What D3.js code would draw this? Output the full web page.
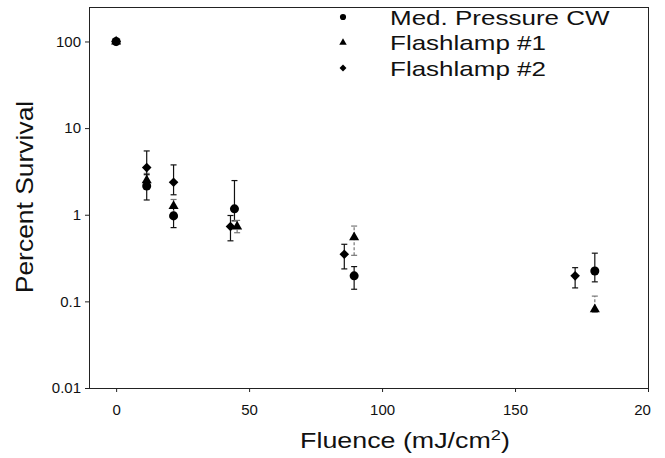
<!DOCTYPE html>
<html>
<head>
<meta charset="utf-8">
<script src="https://cdn.jsdelivr.net/npm/d3@7"></script>
<style>
  body { margin: 0; background: #fff; }
  svg { font-family: "Liberation Sans", Arial, sans-serif; }
  .frame { fill: none; stroke: #222; stroke-width: 1; }
  .axis path { display: none; }
  .axis line { stroke: #222; }
  .axis text { font-size: 15px; fill: #111; }
</style>
</head>
<body>
<div id="chart"></div>
<script>
// series names
var seriesNames = ["Med. Pressure CW", "Flashlamp #1", "Flashlamp #2"];

// Med. Pressure CW
var cwX  = [0, 11.5, 21.6, 44.5, 89.5, 180];
var cwY  = [100, 2.15, 0.97, 1.17, 0.197, 0.224];
var cwLo = [100, 1.48, 0.71, 0.85, 0.138, 0.168];
var cwHi = [100, 2.9, 1.2, 2.48, 0.252, 0.36];

// Flashlamp #1
var fl1X  = [0, 11.5, 21.6, 45.5, 89.5, 180];
var fl1Y  = [100, 2.5, 1.26, 0.73, 0.55, 0.081];
var fl1Lo = [100, 2.0, 1.05, 0.62, 0.34, 0.075];
var fl1Hi = [100, 3.0, 1.5, 0.86, 0.74, 0.115];

// Flashlamp #2
var fl2X  = [0, 11.5, 21.6, 43, 85.8, 172.6];
var fl2Y  = [100, 3.5, 2.37, 0.73, 0.35, 0.197];
var fl2Lo = [100, 2.4, 1.7, 0.50, 0.237, 0.143];
var fl2Hi = [100, 5.45, 3.76, 0.98, 0.456, 0.245];

// ticks
var xTicks = [0, 50, 100, 150, 200];
var xTickLabels = ["0", "50", "100", "150", "20"];
var yTicks = [0.01, 0.1, 1, 10, 100];
var yTickLabels = ["0.01", "0.1", "1", "10", "100"];

function init(){
    var w = 665, h = 458;
    var left = 89, right = 648, top = 7, bottom = 388;

    var svg = d3.select("#chart").append("svg")
        .attr("width", w)
        .attr("height", h);

    var xScale = d3.scaleLinear().domain([-10.2, 200]).range([left, right]);
    var yScale = d3.scaleLog().domain([0.01, 250]).range([bottom, top]);

    // build rows for each series
    function rows(xs, ys, lo, hi){
        return xs.map(function(x, i){ return {x: x, y: ys[i], lo: lo[i], hi: hi[i]}; });
    }
    // diamond = square turned 45 degrees
    var series = [
        {name: seriesNames[0], shape: d3.symbolCircle, size: 64, rot: 0, data: rows(cwX, cwY, cwLo, cwHi), dash: null, color: "#111"},
        {name: seriesNames[1], shape: d3.symbolTriangle, size: 44, rot: 0, data: rows(fl1X, fl1Y, fl1Lo, fl1Hi), dash: "3,2", color: "#777"},
        {name: seriesNames[2], shape: d3.symbolSquare, size: 46, rot: 45, data: rows(fl2X, fl2Y, fl2Lo, fl2Hi), dash: null, color: "#111"}
    ];

    // axes
    var xAxis = d3.axisBottom(xScale).tickValues(xTicks).tickSize(4).tickPadding(12)
        .tickFormat(function(d, i){ return xTickLabels[i]; });
    var yAxis = d3.axisLeft(yScale).tickValues(yTicks).tickSize(4).tickPadding(4)
        .tickFormat(function(d, i){ return yTickLabels[i]; });

    var gx = svg.append("g").attr("class", "axis")
        .attr("transform", `translate(0,${bottom})`)
        .call(xAxis);
    // last label is clipped to "20" in the original, sits a bit left
    gx.selectAll(".tick text").filter(function(d){ return d === 200; }).attr("x", -6);

    svg.append("g").attr("class", "axis")
        .attr("transform", `translate(${left},0)`)
        .call(yAxis);

    svg.append("rect").attr("class", "frame")
        .attr("x", left + 0.5).attr("y", top + 0.5)
        .attr("width", right - left).attr("height", bottom - top);

    // error bars
    series.forEach(function(s){
        var bars = s.data.filter(function(d){ return d.hi > d.lo; });
        var g = svg.append("g");
        g.selectAll("line.v").data(bars).enter().append("line")
            .attr("x1", function(d){ return xScale(d.x); })
            .attr("x2", function(d){ return xScale(d.x); })
            .attr("y1", function(d){ return yScale(d.lo); })
            .attr("y2", function(d){ return yScale(d.hi); })
            .attr("stroke", s.color).attr("stroke-width", 1.2)
            .attr("stroke-dasharray", s.dash);
        ["lo", "hi"].forEach(function(k){
            g.selectAll("line.c" + k).data(bars).enter().append("line")
                .attr("x1", function(d){ return xScale(d.x) - 3; })
                .attr("x2", function(d){ return xScale(d.x) + 3; })
                .attr("y1", function(d){ return yScale(d[k]); })
                .attr("y2", function(d){ return yScale(d[k]); })
                .attr("stroke", s.color).attr("stroke-width", 1.2);
        });
    });

    // markers: triangles, circles, then diamonds on top
    [1, 0, 2].forEach(function(i){
        var s = series[i];
        svg.append("g").selectAll("path").data(s.data).enter().append("path")
            .attr("d", d3.symbol().type(s.shape).size(s.size))
            .attr("transform", function(d){ return `translate(${xScale(d.x)},${yScale(d.y)}) rotate(${s.rot})`; })
            .attr("fill", "#000");
    });

    // legend
    var legend = svg.append("g");
    var legendSizes = [30, 24, 24];
    series.forEach(function(s, i){
        var y = 17 + i * 25.5;
        legend.append("path")
            .attr("d", d3.symbol().type(s.shape).size(legendSizes[i]))
            .attr("transform", `translate(343,${y}) rotate(${s.rot})`)
            .attr("fill", "#000");
        legend.append("text")
            .attr("transform", `translate(390,${y + 7.5}) scale(1.3,1)`)
            .attr("font-size", "20px")
            .attr("fill", "#111")
            .text(s.name);
    });

    // axis titles
    svg.append("text")
        .attr("transform", "translate(33,197) rotate(-90) scale(1.15,1)")
        .attr("text-anchor", "middle")
        .attr("font-size", "23px")
        .attr("fill", "#111")
        .text("Percent Survival");

    var xt = svg.append("text")
        .attr("transform", "translate(405,448) scale(1.22,1)")
        .attr("text-anchor", "middle")
        .attr("font-size", "22px")
        .attr("fill", "#111");
    xt.append("tspan").text("Fluence (mJ/cm");
    xt.append("tspan").attr("dy", -8).attr("font-size", "15px").text("2");
    xt.append("tspan").attr("dy", 8).text(")");
}
window.onload = init;
</script>
</body>
</html>
